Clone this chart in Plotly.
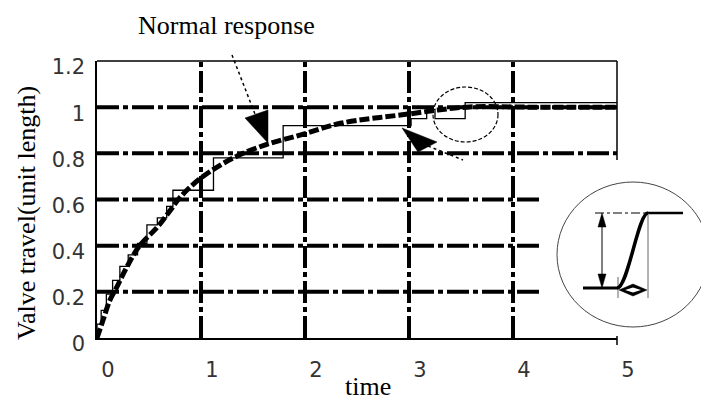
import plotly.graph_objects as go

# ---- data ----
curve_t = [0, 0.06, 0.125, 0.19, 0.29, 0.41, 0.58, 0.70, 0.80, 0.99, 1.31, 1.64, 1.96, 2.34, 2.99, 3.55, 4.2, 5.0]
curve_v = [0, 0.08, 0.165, 0.22, 0.31, 0.40, 0.48, 0.55, 0.61, 0.69, 0.78, 0.84, 0.88, 0.93, 0.97, 1.0, 1.0, 1.0]

stair_t = [0, 0, 0.04, 0.04, 0.09, 0.09, 0.15, 0.15, 0.22, 0.22, 0.30, 0.30, 0.39, 0.39,
           0.48, 0.48, 0.58, 0.58, 0.67, 0.67, 0.73, 0.73, 1.12, 1.12, 1.79, 1.79,
           3.02, 3.02, 3.17, 3.17, 3.25, 3.25, 3.54, 3.54, 5.0]
stair_v = [0, 0.06, 0.06, 0.12, 0.12, 0.19, 0.19, 0.25, 0.25, 0.31, 0.31, 0.36, 0.36, 0.41,
           0.41, 0.49, 0.49, 0.52, 0.52, 0.57, 0.57, 0.64, 0.64, 0.78, 0.78, 0.92,
           0.92, 0.95, 0.95, 0.99, 0.99, 0.95, 0.95, 1.02, 1.02]

x_ticks = [0, 1, 2, 3, 4, 5]
y_ticks = [0, 0.2, 0.4, 0.6, 0.8, 1.0, 1.2]
y_ticktext = ["0", "0.2", "0.4", "0.6", "0.8", "1", "1.2"]

grid_x = [1, 2, 3, 4]
grid_y_short = [0.2, 0.4, 0.6]
grid_y_full = [0.8, 1.0]
short_grid_end = 4.26

OFF = 8  # page body margin
W, H = 701, 395
L, R, T, B = 89, 92, 53, 65
PW, PH = W - L - R, H - T - B


def P(px, py):
    # window pixel -> paper coords
    return (px - OFF - L) / PW, (H - B - (py - OFF)) / PH


def path(pts, close=True):
    s = ""
    for i, (px, py) in enumerate(pts):
        x, y = P(px, py)
        s += ("M" if i == 0 else "L") + f"{x:.5f},{y:.5f} "
    return s + ("Z" if close else "")


fig = go.Figure()
fig.add_trace(go.Scatter(x=stair_t, y=stair_v, mode="lines",
                         line=dict(color="black", width=1.3), hoverinfo="skip"))
fig.add_trace(go.Scatter(x=curve_t, y=curve_v, mode="lines", line_shape="spline",
                         line=dict(color="black", width=5, dash="10px,3px"), hoverinfo="skip"))

shapes = []
gdash = "22px,4px,5px,4px"
for gx in grid_x:
    shapes.append(dict(type="line", xref="x", yref="y", x0=gx, x1=gx, y0=0, y1=1.2,
                       line=dict(color="black", width=4, dash=gdash), layer="below"))
for gy in grid_y_short:
    shapes.append(dict(type="line", xref="x", yref="y", x0=0, x1=short_grid_end, y0=gy, y1=gy,
                       line=dict(color="black", width=4, dash=gdash), layer="below"))
for gy in grid_y_full:
    shapes.append(dict(type="line", xref="x", yref="y", x0=0, x1=5, y0=gy, y1=gy,
                       line=dict(color="black", width=4, dash=gdash), layer="below"))


def pline(p0, p1, width=1.5, color="black", dash=None):
    x0, y0 = P(*p0)
    x1, y1 = P(*p1)
    ln = dict(color=color, width=width)
    if dash:
        ln["dash"] = dash
    shapes.append(dict(type="line", xref="paper", yref="paper", x0=x0, y0=y0, x1=x1, y1=y1, line=ln))


def ppoly(pts, fill="black", lw=0.5, lc="black"):
    shapes.append(dict(type="path", xref="paper", yref="paper", path=path(pts),
                       fillcolor=fill, line=dict(color=lc, width=lw)))


# borders
pline((97, 61), (617, 61), 1.5)
pline((617, 61), (617, 160), 1.5)
pline((617, 336), (617, 345), 1.5)

# "Normal response" arrow
pline((232, 55), (262, 132), 1.5, dash="dot")
ppoly([(245, 118), (268, 110), (268, 143)])

# small circle and its arrow
x0, y0 = P(433, 87)
x1, y1 = P(498, 142)
shapes.append(dict(type="circle", xref="paper", yref="paper", x0=x0, y0=y1, x1=x1, y1=y0,
                   line=dict(color="black", width=1.2, dash="4px,2px")))
pline((428, 146), (463, 160), 1.5, dash="dot")
ppoly([(402, 128), (418, 152), (437, 142)])

# inset ellipse
x0, y0 = P(557, 182)
x1, y1 = P(709, 327)
shapes.append(dict(type="circle", xref="paper", yref="paper", x0=x0, y0=y1, x1=x1, y1=y0,
                   line=dict(color="#444", width=1)))
pline((583, 288), (617, 288), 3)
pline((648, 213), (683, 213), 2.5)
pline((595, 213), (648, 213), 1, dash="dashdot")
pline((618, 277), (618, 298), 1, color="#666")
pline((648, 213), (648, 298), 1, color="#666")
# S-curve
a, b = P(617, 288), P(628, 288)
c, d = P(638, 213), P(648, 213)
shapes.append(dict(type="path", xref="paper", yref="paper",
                   path=f"M{a[0]:.5f},{a[1]:.5f} C{b[0]:.5f},{b[1]:.5f} {c[0]:.5f},{c[1]:.5f} {d[0]:.5f},{d[1]:.5f}",
                   line=dict(color="black", width=3.5)))
# vertical double arrow
pline((602, 222), (602, 280), 1)
ppoly([(602, 213), (598, 227), (606, 227)])
ppoly([(602, 288), (598, 274), (606, 274)])
# horizontal diamond arrow
ppoly([(619, 290), (633, 284), (647, 290), (633, 296)])
ppoly([(625, 290), (633, 287.5), (641, 290), (633, 292.5)], fill="white", lw=0)

annotations = []
serif = dict(family="Liberation Serif, Times New Roman, serif", size=26, color="black")
xa, ya = P(226, 26)
annotations.append(dict(text="Normal response", x=xa, y=ya, xref="paper", yref="paper",
                        showarrow=False, font=serif, xanchor="center", yanchor="middle"))
xa, ya = P(368, 386)
annotations.append(dict(text="time", x=xa, y=ya, xref="paper", yref="paper",
                        showarrow=False, font=serif, xanchor="center", yanchor="middle"))
xa, ya = P(26, 213)
annotations.append(dict(text="Valve travel(unit length)", x=xa, y=ya, xref="paper", yref="paper",
                        showarrow=False, font=serif, textangle=-90, xanchor="center", yanchor="middle"))

tickfont = dict(family="DejaVu Sans", size=21, color="#333")
fig.update_layout(
    width=W, height=H, autosize=False,
    margin=dict(l=L, r=R, t=T, b=B),
    paper_bgcolor="white", plot_bgcolor="white",
    showlegend=False,
    shapes=shapes, annotations=annotations,
    xaxis=dict(range=[0, 5], tickvals=x_ticks, showgrid=False, zeroline=False,
               showline=True, linecolor="black", linewidth=1.5, ticks="",
               tickfont=tickfont, ticklabelshift=11, ticklabelstandoff=12, fixedrange=True),
    yaxis=dict(range=[0, 1.2], tickvals=y_ticks, ticktext=y_ticktext, showgrid=False, zeroline=False,
               showline=True, linecolor="black", linewidth=1.5, ticks="",
               tickfont=tickfont, ticklabelshift=6, ticklabelstandoff=6, fixedrange=True),
)
fig.write_html("out.html")
